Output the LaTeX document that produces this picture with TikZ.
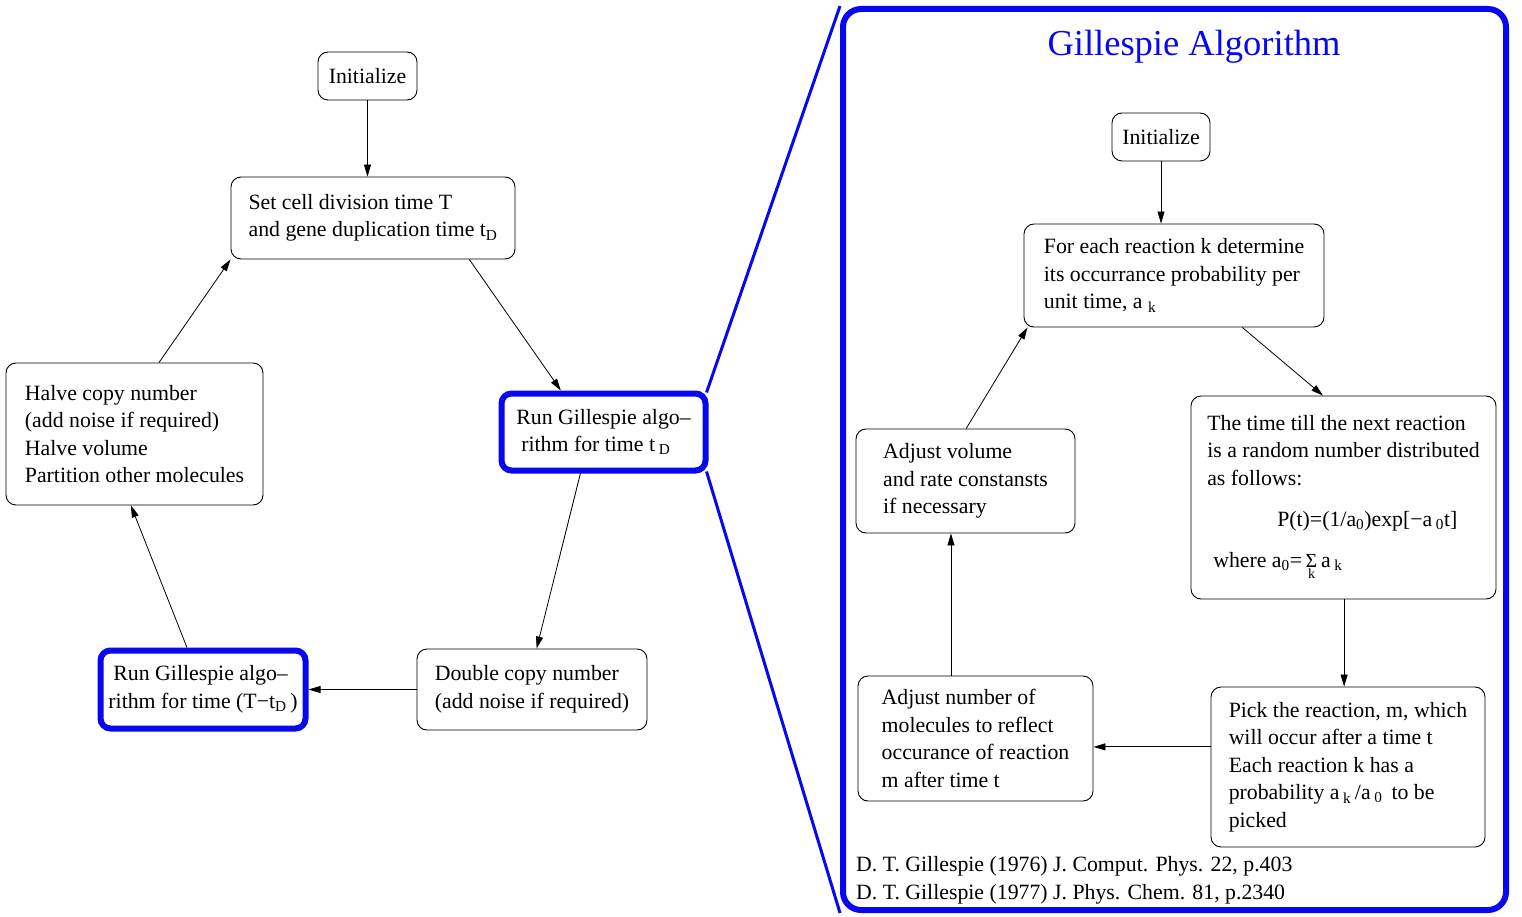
\documentclass[tikz,border=0pt]{standalone}
\usepackage{fontspec}
\setmainfont{Liberation Serif}
\usetikzlibrary{arrows.meta,calc}
\definecolor{gblue}{RGB}{8,8,240}
\begin{document}
\begin{tikzpicture}[x=1pt,y=-1pt,
  box/.style={draw, rounded corners=10pt, line width=0.9pt, align=left,
    font=\fontsize{21.8}{27.5}\selectfont, inner sep=0pt},
  bluebox/.style={box, draw=gblue, line width=6pt},
  arr/.style={-{Triangle[length=12pt,width=7pt]}, line width=0.8pt},
  zoomline/.style={draw=gblue, line width=3pt},
  txt/.style={font=\fontsize{21.8}{27.5}\selectfont, inner sep=0pt, anchor=west}]
\useasboundingbox (0,0) rectangle (1522,917);

% ---------- left cycle ----------
\node[box, minimum width=99pt, minimum height=48pt] (init) at (367.5,76) {Initialize};
\node[box, minimum width=284pt, minimum height=82pt] (setcell) at (373,218)
  {Set cell division time T\\and gene duplication time t\textsubscript{D}};
\node[bluebox, minimum width=204pt, minimum height=77pt] (rung) at (603.5,432)
  {Run Gillespie algo–\\\hspace*{5pt}rithm for time t\,\textsubscript{D}};
\node[box, minimum width=230pt, minimum height=81pt] (double) at (532,689.5)
  {Double copy number\\(add noise if required)};
\node[bluebox, minimum width=205pt, minimum height=78pt] (runt) at (203,689.5)
  {\hspace*{5pt}Run Gillespie algo–\\rithm for time (T−t\textsubscript{D}\,)};
\node[box, minimum width=257pt, minimum height=142pt] (halve) at (134.5,434)
  {Halve copy number\\(add noise if required)\\Halve volume\\Partition other molecules};

\draw[arr] (init.south) -- (init.south |- setcell.north);
\draw[arr] ($(setcell.south west)!0.838!(setcell.south east)$) -- ($(rung.north west)!0.297!(rung.north east)$);
\draw[arr] ($(rung.south west)!0.39!(rung.south east)$) -- ($(double.north west)!0.52!(double.north east)$);
\draw[arr] (double.west) -- (runt.east);
\draw[arr] ($(runt.north west)!0.424!(runt.north east)$) -- ($(halve.south west)!0.486!(halve.south east)$);
\draw[arr] ($(halve.north west)!0.595!(halve.north east)$) -- (setcell.south west);

% ---------- right panel ----------
\node[draw=gblue, line width=6pt, rounded corners=18pt, minimum width=663pt, minimum height=901pt, inner sep=0pt] (panel) at (1174.5,459.5) {};
\draw[zoomline] ($(rung.north east)+(-2,2)$) -- (panel.north west);
\draw[zoomline] ($(rung.south east)+(-2,-2)$) -- (panel.south west);

\node[text=gblue, font=\fontsize{36.5}{42}\selectfont, inner sep=0pt] (title) at (1194,47) {Gillespie Algorithm};

\node[box, minimum width=98pt, minimum height=48pt] (rinit) at (1161,137) {Initialize};
\node[box, minimum width=300pt, minimum height=103pt] (foreach) at (1174,275.5)
  {For each reaction k determine\\its occurrance probability per\\unit time, a \textsubscript{k}};
\node[box, minimum width=305pt, minimum height=203pt] (timetill) at (1343.5,497.5)
  {The time till the next reaction\\is a random number distributed\\as follows:\\[14pt]
   \hspace*{70pt}P(t)=(1/a\textsubscript{0})exp[−a\,\textsubscript{0}t]\\[13pt]
   \hspace*{6pt}where a\textsubscript{0}=\,$\mathop{\hbox{\fontsize{20}{20}\selectfont Σ}}\limits_{\hbox{\raisebox{-2pt}{\fontsize{14}{14}\selectfont k}}}$\,a\,\textsubscript{k}};
\node[box, minimum width=274pt, minimum height=160pt] (pick) at (1348,767)
  {Pick the reaction, m, which\\will occur after a time t\\Each reaction k has a\\probability a\,\textsubscript{k}\,/a\,\textsubscript{0}\, to be\\picked};
\node[box, minimum width=235pt, minimum height=125pt] (adjnum) at (975.5,738.5)
  {Adjust number of\\molecules to reflect\\occurance of reaction\\m after time t};
\node[box, minimum width=219pt, minimum height=104pt] (adjvol) at (965.5,481)
  {Adjust volume\\and rate constansts\\if necessary};

\draw[arr] (rinit.south) -- (rinit.south |- foreach.north);
\draw[arr] ($(foreach.south west)!0.727!(foreach.south east)$) -- ($(timetill.north west)!0.433!(timetill.north east)$);
\draw[arr] ($(timetill.south west)!0.502!(timetill.south east)$) coordinate (tb) -- (tb |- pick.north);
\draw[arr] ($(pick.north west)!0.375!(pick.south west)$) coordinate (pw) -- (pw -| adjnum.east);
\draw[arr] ($(adjnum.north west)!0.396!(adjnum.north east)$) coordinate (an) -- (an |- adjvol.south);
\draw[arr] ($(adjvol.north west)!0.503!(adjvol.north east)$) -- ($(foreach.south west)!0.013!(foreach.south east)$);

\node[txt] (ref1) at (856,866) {D. T. Gillespie (1976) J. Comput. Phys. 22, p.403};
\node[txt] (ref2) at (856,894) {D. T. Gillespie (1977) J. Phys. Chem. 81, p.2340};
\end{tikzpicture}
\end{document}
